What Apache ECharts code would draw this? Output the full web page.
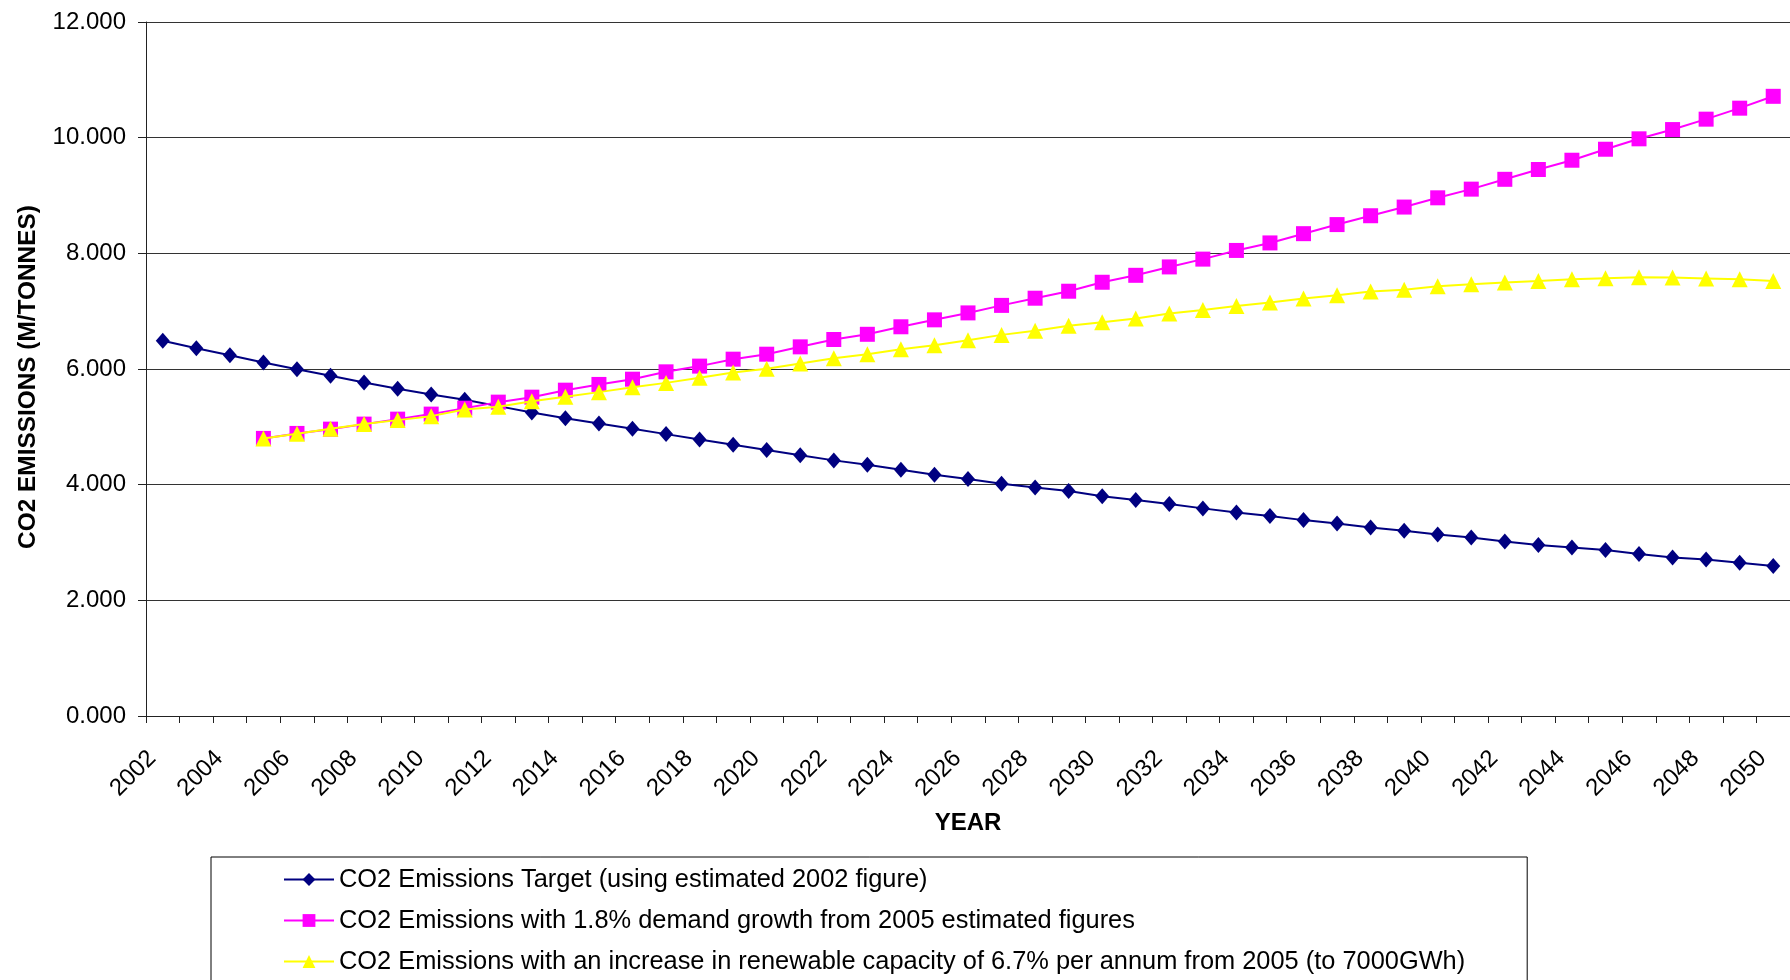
<!DOCTYPE html>
<html>
<head>
<meta charset="utf-8">
<script src="https://cdn.jsdelivr.net/npm/echarts@6/dist/echarts.min.js"></script>
<style>
  html, body { margin: 0; padding: 0; background: #fff; }
  #chart { width: 1790px; height: 980px; }
</style>
</head>
<body>
<div id="chart"></div>
<script>
// Years on the category axis
const years = [
  '2002','2003','2004','2005','2006','2007','2008','2009','2010','2011',
  '2012','2013','2014','2015','2016','2017','2018','2019','2020','2021',
  '2022','2023','2024','2025','2026','2027','2028','2029','2030','2031',
  '2032','2033','2034','2035','2036','2037','2038','2039','2040','2041',
  '2042','2043','2044','2045','2046','2047','2048','2049','2050'
];

// Value-axis ticks (M/tonnes)
const yTicks = [0, 2, 4, 6, 8, 10, 12];

// CO2 emissions target, 2002-2050
const targetSeries = [
  6.487, 6.36, 6.239, 6.113, 5.997, 5.882, 5.767, 5.657, 5.56, 5.467,
  5.358, 5.249, 5.15, 5.058, 4.966, 4.874, 4.78, 4.69, 4.60, 4.51,
  4.42, 4.343, 4.257, 4.17, 4.096, 4.015, 3.952, 3.889, 3.80, 3.733,
  3.664, 3.59, 3.52, 3.457, 3.387, 3.33, 3.26, 3.203, 3.14, 3.088,
  3.019, 2.955, 2.915, 2.869, 2.80, 2.742, 2.708, 2.65, 2.592
];

// 1.8% demand growth, 2005-2050 (no values before 2005)
const demandSeries = [
  null, null, null,
  4.80, 4.886, 4.96, 5.047, 5.133, 5.22, 5.323, 5.427, 5.513, 5.634,
  5.733, 5.824, 5.951, 6.05, 6.17, 6.256, 6.383, 6.51, 6.60, 6.73,
  6.85, 6.97, 7.10, 7.224, 7.345, 7.50, 7.62, 7.765, 7.90, 8.05,
  8.18, 8.34, 8.497, 8.65, 8.80, 8.96, 9.11, 9.28, 9.45, 9.61,
  9.80, 9.98, 10.14, 10.32, 10.51, 10.715
];

// 6.7% annual renewable capacity increase, 2005-2050
const renewableSeries = [
  null, null, null,
  4.80, 4.88, 4.966, 5.047, 5.116, 5.185, 5.30, 5.346, 5.444, 5.52,
  5.60, 5.686, 5.76, 5.847, 5.94, 6.003, 6.095, 6.187, 6.256, 6.343,
  6.41, 6.498, 6.59, 6.66, 6.746, 6.81, 6.873, 6.96, 7.02, 7.09,
  7.15, 7.22, 7.276, 7.34, 7.37, 7.43, 7.466, 7.495, 7.52, 7.55,
  7.57, 7.587, 7.58, 7.565, 7.55, 7.52
];

const seriesNames = [
  'CO2 Emissions Target (using estimated 2002 figure)',
  'CO2 Emissions with 1.8% demand growth from 2005 estimated figures',
  'CO2 Emissions with an increase in renewable capacity of 6.7% per annum from 2005 (to 7000GWh)'
];

const FONT = '"Liberation Sans", Arial, sans-serif';

const chart = echarts.init(document.getElementById('chart'), null, { renderer: 'canvas' });

chart.setOption({
  animation: false,
  backgroundColor: '#ffffff',
  textStyle: { fontFamily: FONT },
  grid: { left: 146, top: 22, width: 1654, height: 694, containLabel: false },
  legend: {
    orient: 'vertical',
    left: 211,
    top: 857,
    height: 300,
    padding: [10, 62, 24, 72],
    itemGap: 16,
    itemWidth: 50,
    itemHeight: 16,
    borderColor: '#000',
    borderWidth: 1,
    backgroundColor: '#fff',
    selectedMode: false,
    textStyle: { fontFamily: FONT, fontSize: 25.4, color: '#000' },
    data: seriesNames
  },
  xAxis: {
    type: 'category',
    data: years,
    boundaryGap: true,
    name: 'YEAR',
    nameLocation: 'middle',
    nameGap: 95,
    nameTextStyle: { fontFamily: FONT, fontSize: 24, fontWeight: 'bold', color: '#000' },
    axisLine: { lineStyle: { color: '#222', width: 1 } },
    axisTick: { show: true, interval: 0, length: 7, lineStyle: { color: '#222' } },
    axisLabel: {
      interval: 1,
      rotate: 45,
      margin: 28,
      padding: [0, 15, 0, 0],
      fontFamily: FONT,
      fontSize: 24,
      color: '#000'
    },
    splitLine: { show: false }
  },
  yAxis: {
    type: 'value',
    min: yTicks[0],
    max: yTicks[yTicks.length - 1],
    interval: 2,
    name: 'CO2 EMISSIONS (M/TONNES)',
    nameLocation: 'middle',
    nameGap: 106,
    nameRotate: 90,
    nameTextStyle: {
      fontFamily: FONT, fontSize: 24.4, fontWeight: 'bold', color: '#000',
      padding: [0, 16, 0, 0]
    },
    axisLine: { show: true, lineStyle: { color: '#222', width: 1 } },
    axisTick: { show: true, length: 8, lineStyle: { color: '#222' } },
    axisLabel: {
      margin: 20,
      fontFamily: FONT,
      fontSize: 24,
      color: '#000',
      formatter: v => v.toFixed(3)
    },
    splitLine: { show: true, lineStyle: { color: '#333', width: 1 } }
  },
  series: [
    {
      name: seriesNames[0],
      type: 'line',
      data: targetSeries,
      symbol: 'diamond',
      symbolSize: [14, 16],
      showAllSymbol: true,
      lineStyle: { color: '#000080', width: 2 },
      itemStyle: { color: '#000080' },
      z: 2
    },
    {
      name: seriesNames[1],
      type: 'line',
      data: demandSeries,
      symbol: 'rect',
      symbolSize: 15,
      showAllSymbol: true,
      lineStyle: { color: '#ff00ff', width: 2 },
      itemStyle: { color: '#ff00ff' },
      z: 3
    },
    {
      name: seriesNames[2],
      type: 'line',
      data: renewableSeries,
      symbol: 'triangle',
      symbolSize: 16,
      showAllSymbol: true,
      lineStyle: { color: '#ffff00', width: 2 },
      itemStyle: { color: '#ffff00' },
      z: 4
    }
  ]
});
</script>
</body>
</html>
